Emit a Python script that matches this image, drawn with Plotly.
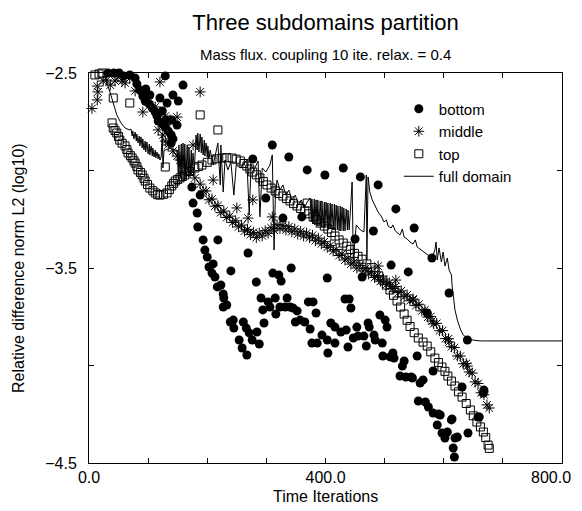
import plotly.graph_objects as go

# ---------------- data ----------------
bottom_x = [32, 42, 51, 59, 69, 78, 81, 86, 91, 95, 102, 107, 112, 115, 117, 124, 129, 134, 139, 142, 139,
            129, 159, 142, 132, 151, 124, 140, 149, 130, 120, 103, 96,
            277, 310, 338, 369, 399, 430, 459, 489, 519, 550, 580, 609, 640,
            299, 328, 360, 450, 481, 511, 540, 269, 240, 283, 311, 321, 325, 342, 403, 572, 462,
            174, 188, 176, 183, 184, 193, 218, 196, 200, 210, 203, 208, 213, 217, 223, 227, 228, 227, 233,
            239, 244, 245, 254, 259, 267, 261, 266, 271, 276, 284, 288, 296, 294, 291, 303, 306, 316, 315,
            323, 332, 335, 340, 345, 352, 349, 357, 365, 371, 379, 384, 374, 377, 386, 394, 403, 404, 409,
            416, 426, 435, 416, 433, 440, 443, 453, 447, 455, 465, 438, 469, 472, 474, 482, 484, 496, 492,
            501, 504, 497, 509, 514, 516, 533, 530, 526, 536, 545, 555, 560, 557, 569, 582, 591, 589, 606,
            613, 597, 602, 619, 623, 641, 660, 616, 618, 582, 631, 668, 667, 547, 565, 574, 594, 614, 658]
bottom_y = [-2.50, -2.50, -2.50, -2.515, -2.51, -2.526, -2.556, -2.587, -2.618, -2.644, -2.659, -2.68, -2.70,
            -2.72, -2.746, -2.762, -2.777, -2.797, -2.818, -2.838, -2.859,
            -2.515, -2.562, -2.613, -2.654, -2.644, -2.695, -2.741, -2.767, -2.741, -2.628, -2.613, -2.582,
            -2.941, -2.869, -2.931, -2.997, -3.023, -2.987, -3.033, -3.074, -3.197, -3.295, -3.449, -3.628, -3.869,
            -3.141, -3.244, -3.238, -3.351, -3.31, -3.485, -3.52, -3.423, -3.515, -3.572, -3.526, -3.536, -3.567,
            -3.50, -3.551, -3.731, -3.546,
            -3.085, -3.126, -3.167, -3.218, -3.29, -3.356, -3.356, -3.408, -3.444, -3.479, -3.495, -3.526, -3.546,
            -3.597, -3.587, -3.633, -3.654, -3.70, -3.69,
            -3.777, -3.767, -3.808, -3.869, -3.91, -3.946, -3.777, -3.808, -3.833, -3.869, -3.828, -3.89, -3.782,
            -3.715, -3.654, -3.674, -3.70, -3.736, -3.654,
            -3.70, -3.70, -3.654, -3.70, -3.705, -3.72, -3.777, -3.767, -3.777, -3.674, -3.674, -3.731, -3.813,
            -3.885, -3.885, -3.844, -3.869, -3.936, -3.782,
            -3.803, -3.828, -3.818, -3.885, -3.659, -3.659, -3.705, -3.803, -3.859, -3.849, -3.849, -3.905, -3.90,
            -3.782, -3.803, -3.844, -3.869, -3.885, -3.741,
            -3.767, -3.803, -3.951, -3.956, -3.936, -3.962, -3.977, -4.003, -4.054, -4.059, -4.059, -3.951, -4.09,
            -4.182, -4.187, -4.244, -4.249, -4.305, -4.341,
            -4.279, -4.346, -4.372, -4.372, -4.367, -4.346, -4.264, -4.423, -4.469, -4.028, -4.11, -4.126, -4.141,
            -4.064, -4.074, -4.213, -4.254, -4.274, -4.264]

middle_x = [5, 14, 15, 14, 24, 30, 36, 44, 56, 61, 49, 69, 120, 188, 78, 100, 112, 91, 115, 129, 149, 137,
            129, 117, 125, 129, 134, 142, 149, 176, 154, 162, 171, 179, 210,
            250, 269, 277, 310, 489, 519, 548, 580, 609, 640, 667,
            188, 193, 198, 203, 208, 213, 218, 223, 228, 233, 238, 243, 248, 253, 258, 263, 268, 273, 278, 283,
            288, 293, 298, 303, 308, 313, 318, 323, 328, 333, 338, 343, 348, 353, 358, 363, 368, 373, 378, 383,
            388, 393, 398, 403, 408, 413, 418, 423, 428, 433, 438, 443, 448, 453, 458, 463, 468, 473, 478, 483,
            488, 493, 498, 503, 508, 513, 518, 523, 528, 533, 538, 543, 548, 553, 558, 563, 568, 573, 578, 583,
            588, 593, 598, 603, 608, 613, 618, 623, 628, 633, 638, 643, 648, 653, 658, 663, 668, 673, 677]
middle_y = [-2.682, -2.638, -2.597, -2.567, -2.541, -2.536, -2.562, -2.541, -2.541, -2.551, -2.52, -2.526,
            -2.546, -2.597, -2.592, -2.649, -2.674, -2.70, -2.705, -2.721, -2.726, -2.741,
            -2.767, -2.792, -2.818, -2.849, -2.869, -2.90, -2.926, -2.869, -2.946, -2.977, -3.008, -3.038, -3.049,
            -3.192, -3.244, -3.151, -3.238, -3.49, -3.562, -3.664, -3.772, -3.879, -4.003, -4.136,
            -3.07, -3.105, -3.105, -3.15, -3.146, -3.183, -3.18, -3.216, -3.208, -3.241, -3.234, -3.267, -3.258,
            -3.289, -3.28, -3.311, -3.302, -3.329, -3.317, -3.344,
            -3.321, -3.335, -3.309, -3.322, -3.294, -3.306, -3.278, -3.297, -3.281, -3.305, -3.288, -3.314, -3.30,
            -3.326, -3.312, -3.336, -3.321, -3.345, -3.332, -3.36,
            -3.347, -3.376, -3.365, -3.394, -3.384, -3.413, -3.405, -3.436, -3.428, -3.459, -3.449, -3.48, -3.47,
            -3.50, -3.487, -3.515, -3.502, -3.531, -3.52, -3.549,
            -3.539, -3.568, -3.557, -3.586, -3.576, -3.605, -3.595, -3.626, -3.617, -3.647, -3.638, -3.668, -3.659,
            -3.693, -3.686, -3.72, -3.715, -3.752, -3.749, -3.786,
            -3.784, -3.822, -3.821, -3.862, -3.863, -3.904, -3.908, -3.951, -3.952, -3.991, -3.99, -4.033, -4.039,
            -4.084, -4.092, -4.14, -4.15, -4.202, -4.218]

top_x = [10, 17, 22, 41, 69, 188, 218, 129, 369,
         39, 41, 44, 47, 50, 52, 56, 61, 64, 66, 70, 73, 76, 78, 81, 83, 87, 90, 93, 95, 99, 103, 108, 112, 116,
         120, 126, 132, 136, 140, 143, 146, 150, 154, 158, 162, 170, 179, 185, 191, 200, 208, 216, 225, 233, 242,
         249, 256, 262, 267, 272, 277, 283, 289, 295, 301, 308, 315, 321, 328, 334, 340, 346, 352, 358, 365, 372,
         379, 385, 391, 398, 404, 410, 416, 423, 430, 436, 442, 449, 455, 462, 470, 477, 484, 490, 497, 503, 509,
         515, 521, 527, 533, 538, 543, 550, 557, 565, 572, 578, 585, 591, 597, 602, 607, 613, 619, 625, 631, 638,
         645, 650, 656, 662, 667, 671, 675, 677]
top_y = [-2.51, -2.505, -2.50, -2.628, -2.654, -2.715, -2.792, -2.982, -3.167,
         -2.756, -2.782, -2.795, -2.808, -2.826, -2.844, -2.86, -2.874, -2.892, -2.91, -2.924, -2.936, -2.95,
         -2.962, -2.98, -2.997, -3.01, -3.023, -3.04, -3.054, -3.072, -3.09, -3.104, -3.115, -3.124,
         -3.126, -3.122, -3.115, -3.098, -3.079, -3.066, -3.054, -3.046, -3.038, -3.031, -3.023, -3.005, -2.987,
         -2.98, -2.972, -2.958, -2.946, -2.94, -2.936, -2.934, -2.936,
         -2.942, -2.951, -2.964, -2.977, -2.992, -3.008, -3.022, -3.038, -3.056, -3.074, -3.09, -3.105, -3.118,
         -3.131, -3.144, -3.156, -3.17, -3.182, -3.195, -3.208, -3.222,
         -3.238, -3.252, -3.27, -3.285, -3.30, -3.318, -3.336, -3.356, -3.372, -3.388, -3.405, -3.425, -3.44,
         -3.455, -3.479, -3.498, -3.52, -3.54, -3.562, -3.588, -3.613,
         -3.64, -3.669, -3.70, -3.736, -3.768, -3.80, -3.832, -3.859, -3.88, -3.90, -3.93, -3.962, -3.985, -4.008,
         -4.03, -4.054, -4.08, -4.105, -4.135, -4.162, -4.195,
         -4.228, -4.258, -4.29, -4.315, -4.341, -4.37, -4.408, -4.425]

full_x = [25, 32, 37, 42, 47, 54, 61, 68,
          71, 73, 74, 76, 78, 80, 81, 83, 85, 86, 88, 90, 91, 93, 95, 96, 98, 100, 102, 103, 105, 107, 108, 110,
          112, 113, 115, 117, 118, 120, 122,
          124, 125, 127, 130, 137, 144,
          149, 151, 152, 154, 156, 157, 159, 161, 162, 164, 166, 168, 169, 171, 173, 174, 176, 178, 179,
          181, 183, 184, 186, 188, 190, 191, 193, 195, 196, 198, 200, 201, 203, 205,
          210, 215, 218, 222, 223, 227, 230, 235, 240, 245, 249, 256, 262, 267, 271, 274, 279, 286, 289, 293,
          299, 306, 310, 313, 315, 318, 323, 328, 333, 338, 343, 349, 354, 359, 364, 369,
          374, 376, 377, 379, 381, 382, 384, 386, 387, 389, 391, 393, 394, 396, 398, 399, 401, 403, 404, 406,
          408, 409, 411, 413, 415, 416, 418, 420, 421, 423, 425, 426, 428, 430, 431, 433, 435, 437, 438, 440, 442,
          445, 447, 452, 459, 465, 469, 470, 472, 475, 479, 484, 489, 494, 499, 503, 506, 511, 514, 518, 523,
          526, 530, 533, 538, 543, 548, 552, 555, 560, 565, 570, 575, 580, 585, 587, 589, 592, 596, 599, 602,
          606, 609, 613, 614, 616, 619, 623, 628, 633, 640, 648, 662, 695, 746, 800]
full_y = [-2.50, -2.562, -2.613, -2.664, -2.715, -2.756, -2.782, -2.792,
          -2.787, -2.823, -2.797, -2.838, -2.803, -2.849, -2.813, -2.859, -2.823, -2.874, -2.828, -2.885, -2.838,
          -2.895, -2.849, -2.905, -2.854, -2.915, -2.864, -2.92, -2.874, -2.926, -2.885, -2.931, -2.895, -2.936,
          -2.905, -2.941, -2.915, -2.946, -2.931,
          -2.808, -2.987, -2.895, -2.895, -2.885, -2.895,
          -2.895, -3.018, -2.869, -3.033, -2.864, -3.044, -2.859, -3.049, -2.864, -3.044, -2.869, -3.033, -2.879,
          -3.023, -2.895, -3.008, -2.91, -2.987, -2.946,
          -2.818, -2.895, -2.808, -2.905, -2.813, -2.91, -2.828, -2.92, -2.844, -2.926, -2.859, -2.931, -2.874,
          -2.936, -2.895,
          -2.972, -2.895, -2.859, -3.074, -2.869, -3.11, -2.946, -2.997, -2.956, -3.126, -2.972, -2.987, -2.962,
          -2.946, -3.228, -2.972, -2.997, -2.951, -3.238, -2.987,
          -3.008, -2.972, -2.92, -3.408, -3.151, -3.049, -3.10, -3.074, -3.126, -3.10, -3.151, -3.126, -3.177,
          -3.151, -3.192, -3.162,
          -3.141, -3.264, -3.146, -3.274, -3.146, -3.279, -3.151, -3.285, -3.151, -3.285, -3.156, -3.29, -3.156,
          -3.29, -3.162, -3.295, -3.162, -3.295, -3.167, -3.30,
          -3.167, -3.30, -3.172, -3.305, -3.172, -3.305, -3.177, -3.305, -3.182, -3.31, -3.182, -3.31, -3.187,
          -3.31, -3.192, -3.31, -3.197, -3.305, -3.203, -3.305, -3.213,
          -3.059, -3.459, -3.279, -3.305, -3.315, -3.023, -3.459, -3.033, -3.11, -3.151, -3.187, -3.213, -3.233,
          -3.264, -3.254, -3.285, -3.295, -3.279, -3.31, -3.321,
          -3.331, -3.30, -3.341, -3.351, -3.367, -3.377, -3.356, -3.392, -3.403, -3.413, -3.428, -3.438, -3.449,
          -3.408, -3.367, -3.459, -3.397, -3.469, -3.418, -3.49,
          -3.449, -3.51, -3.536, -3.587, -3.638, -3.715, -3.767, -3.813, -3.844, -3.859, -3.869, -3.874, -3.874,
          -3.874, -3.874]

x_tick_values = [0, 100, 200, 300, 400, 500, 600, 700, 800]
x_tick_labels = ["0.0", "", "", "", "400.0", "", "", "", ""]
x_last_label = "800.0"          # drawn as a right-aligned label so it stays inside the window
y_tick_values = [-2.5, -3.0, -3.5, -4.0, -4.5]
y_tick_labels = ["\u22122.5", "", "\u22123.5", "", "\u22124.5"]

FONT = "Liberation Sans, Arial, Helvetica, sans-serif"

# the page shows the figure 8 px in from the top-left corner of the window
W, H = 574, 503

fig = go.Figure()
fig.add_trace(go.Scatter(x=bottom_x, y=bottom_y, mode="markers", name="bottom", cliponaxis=False,
                         marker=dict(symbol="circle", size=9, color="black", line=dict(width=0))))
fig.add_trace(go.Scatter(x=middle_x, y=middle_y, mode="markers", name="middle", cliponaxis=False,
                         marker=dict(symbol="asterisk-open", size=9, color="black",
                                     line=dict(width=1, color="black"))))
fig.add_trace(go.Scatter(x=top_x, y=top_y, mode="markers", name="top", cliponaxis=False,
                         marker=dict(symbol="square-open", size=8, color="black",
                                     line=dict(width=1, color="black"))))
fig.add_trace(go.Scatter(x=full_x, y=full_y, mode="lines", name="full domain",
                         line=dict(color="black", width=1)))

axis_common = dict(showline=True, linecolor="black", linewidth=1, mirror="ticks", ticks="inside",
                   ticklen=5, tickcolor="black", tickwidth=1, showgrid=False, zeroline=False,
                   automargin=False, tickfont=dict(family=FONT, size=16, color="black"))

fig.update_layout(
    width=W, height=H,
    margin=dict(l=81, r=20, t=65, b=48, autoexpand=False),
    paper_bgcolor="white", plot_bgcolor="white",
    font=dict(family=FONT, color="black"),
    title=dict(text="Three subdomains partition", x=0.5, xref="paper", xanchor="center",
               y=1 - 14 / H, yref="container", yanchor="middle",
               font=dict(family=FONT, size=22, color="black")),
    xaxis=dict(range=[0, 800], tickvals=x_tick_values, ticktext=x_tick_labels, ticklabelstandoff=0,
               **axis_common),
    yaxis=dict(range=[-4.5, -2.5], tickvals=y_tick_values, ticktext=y_tick_labels, ticklabelstandoff=8,
               **axis_common),
    showlegend=True,
    legend=dict(x=0.655, y=0.950, xanchor="left", yanchor="top", bgcolor="rgba(0,0,0,0)",
                font=dict(family=FONT, size=15, color="black"), tracegroupgap=0),
    annotations=[
        dict(text="Mass flux. coupling 10 ite. relax. = 0.4", xref="paper", yref="paper",
             x=0.5, y=1 + 18 / 390, xanchor="center", yanchor="middle", showarrow=False,
             font=dict(family=FONT, size=15, color="black")),
        dict(text="Time Iterations", xref="paper", yref="paper", x=0.5, y=-34 / 390,
             xanchor="center", yanchor="middle", showarrow=False,
             font=dict(family=FONT, size=16, color="black")),
        dict(text="Relative difference norm L2 (log10)", xref="paper", yref="paper",
             x=-71 / 473, y=0.5, xanchor="center", yanchor="middle", textangle=-90, showarrow=False,
             font=dict(family=FONT, size=16, color="black")),
        dict(text=x_last_label, xref="paper", yref="paper", x=1 + 11 / 473, y=-14 / 390,
             xanchor="right", yanchor="middle", showarrow=False,
             font=dict(family=FONT, size=16, color="black")),
    ],
)

fig.write_html("out.html")
